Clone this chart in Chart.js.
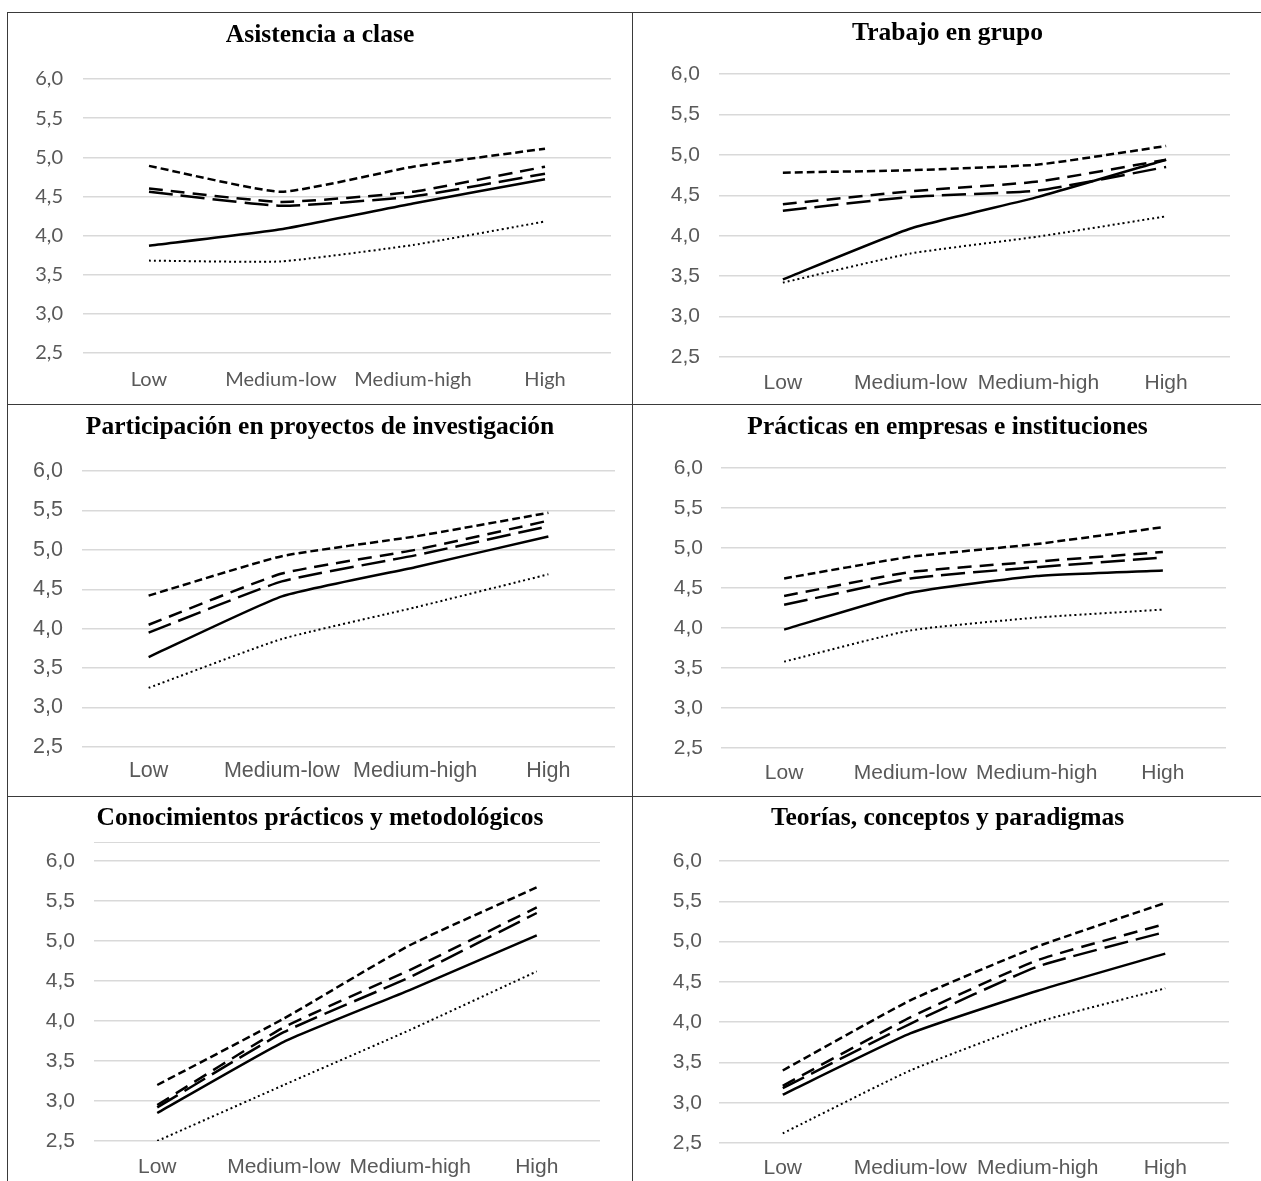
<!DOCTYPE html>
<html lang="es">
<head>
<meta charset="utf-8">
<title>Valoración por nivel</title>
<script src="https://cdn.jsdelivr.net/npm/chart.js@4.4.1/dist/chart.umd.min.js"></script>
<style>
  body { margin: 0; background: #fff; width: 1261px; height: 1181px; position: relative; overflow: hidden; }
  canvas { position: absolute; }
  .linea { position: absolute; background: #3a3a3a; }
  .marco { position: absolute; background: #d9d9d9; }
</style>
</head>
<body>
<div class="linea" style="left:7px;top:12px;width:1254px;height:1px"></div>
<div class="linea" style="left:7px;top:404px;width:1254px;height:1px"></div>
<div class="linea" style="left:7px;top:796px;width:1254px;height:1px"></div>
<div class="linea" style="left:7px;top:12px;width:1px;height:1169px"></div>
<div class="linea" style="left:632px;top:12px;width:1px;height:1169px"></div>
<div class="marco" style="left:94px;top:842px;width:506px;height:1px"></div>

<canvas id="g1"></canvas>
<canvas id="g2"></canvas>
<canvas id="g3"></canvas>
<canvas id="g4"></canvas>
<canvas id="g5"></canvas>
<canvas id="g6"></canvas>

<script>
const categorias = ['Low', 'Medium-low', 'Medium-high', 'High'];
const ticksY = [2.5, 3.0, 3.5, 4.0, 4.5, 5.0, 5.5, 6.0];

// Asistencia a clase
const asistencia_continua = [3.87, 4.08, 4.41, 4.72];
const asistencia_punteada = [3.68, 3.67, 3.88, 4.18];
const asistencia_guionCorto = [4.89, 4.56, 4.88, 5.11];
const asistencia_guion = [4.60, 4.43, 4.56, 4.88];
const asistencia_guionLargo = [4.56, 4.38, 4.50, 4.79];

// Trabajo en grupo
const trabajo_continua = [3.46, 4.09, 4.48, 4.94];
const trabajo_punteada = [3.42, 3.78, 3.99, 4.24];
const trabajo_guionCorto = [4.78, 4.81, 4.88, 5.11];
const trabajo_guion = [4.39, 4.55, 4.67, 4.94];
const trabajo_guionLargo = [4.31, 4.48, 4.56, 4.85];

// Participación en proyectos de investigación
const proyectos_continua = [3.64, 4.41, 4.78, 5.17];
const proyectos_punteada = [3.25, 3.87, 4.27, 4.69];
const proyectos_guionCorto = [4.42, 4.92, 5.17, 5.47];
const proyectos_guion = [4.05, 4.70, 5.00, 5.37];
const proyectos_guionLargo = [3.95, 4.60, 4.93, 5.30];

// Prácticas en empresas e instituciones
const practicas_continua = [3.98, 4.44, 4.65, 4.72];
const practicas_punteada = [3.58, 3.97, 4.13, 4.23];
const practicas_guionCorto = [4.62, 4.89, 5.05, 5.26];
const practicas_guion = [4.40, 4.70, 4.83, 4.95];
const practicas_guionLargo = [4.29, 4.62, 4.76, 4.88];

// Conocimientos prácticos y metodológicos
const conocimientos_continua = [2.85, 3.74, 4.39, 5.07];
const conocimientos_punteada = [2.50, 3.20, 3.89, 4.62];
const conocimientos_guionCorto = [3.20, 4.03, 4.95, 5.67];
const conocimientos_guion = [2.95, 3.92, 4.64, 5.42];
const conocimientos_guionLargo = [2.92, 3.86, 4.55, 5.35];

// Teorías, conceptos y paradigmas
const teorias_continua = [3.10, 3.86, 4.39, 4.85];
const teorias_punteada = [2.62, 3.40, 4.00, 4.42];
const teorias_guionCorto = [3.40, 4.27, 4.94, 5.48];
const teorias_guion = [3.21, 4.06, 4.77, 5.22];
const teorias_guionLargo = [3.18, 3.98, 4.69, 5.12];

// estilo de cada serie: continua, punteada, guion corto, guion, guion largo
const estilos = [
    { dash: [], width: 2.5 },
    { dash: [2, 3], width: 2 },
    { dash: [8, 4], width: 2.5 },
    { dash: [14, 8], width: 2.5 },
    { dash: [24, 8], width: 2.5 },
];

function crearGrafico(id, titulo, series, g) {
    const canvas = document.getElementById(id);
    const [cx, cy, cw, ch] = g.celda;
    const [l, r, t, b] = g.area;
    canvas.width = cw;
    canvas.height = ch;
    canvas.style.left = cx + 'px';
    canvas.style.top = cy + 'px';

    const tSize = 25.5;
    const tPadTop = g.tituloY - cy - tSize * 0.6;
    const tPadBottom = (t - cy) - tPadTop - tSize * 1.2;
    const lado = cx + cw - r;           // mismo margen a ambos lados para centrar el título
    const anchoY = l - cx - lado;
    const altoX = 36;

    const datasets = series.map((valores, i) => ({
        data: valores,
        borderColor: '#000000',
        backgroundColor: '#000000',
        borderWidth: estilos[i].width,
        borderDash: estilos[i].dash,
        borderCapStyle: 'butt',
        tension: 0.15,
        pointRadius: 0,
        fill: false,
    }));

    const fuente = { family: g.fuente, size: g.tam };

    return new Chart(canvas, {
        type: 'line',
        data: { labels: categorias, datasets: datasets },
        options: {
            responsive: false,
            animation: false,
            devicePixelRatio: 1,
            layout: {
                padding: { left: lado, top: 0, right: lado, bottom: cy + ch - b - altoX }
            },
            plugins: {
                legend: { display: false },
                tooltip: { enabled: false },
                title: {
                    display: true,
                    text: titulo,
                    color: '#000000',
                    font: { family: 'Liberation Serif', size: tSize, weight: 'bold' },
                    padding: { top: tPadTop, bottom: tPadBottom }
                }
            },
            scales: {
                x: {
                    offset: true,
                    grid: { display: false, drawTicks: false },
                    border: { display: false },
                    ticks: {
                        color: '#595959',
                        font: fuente,
                        padding: g.etiquetaX - b - g.tam * 0.6,
                        maxRotation: 0,
                        autoSkip: false
                    },
                    afterFit: (s) => { s.height = altoX; }
                },
                y: {
                    min: ticksY[0],
                    max: ticksY[ticksY.length - 1],
                    afterBuildTicks: (s) => { s.ticks = ticksY.map(v => ({ value: v })); },
                    grid: { color: '#d9d9d9', lineWidth: 1.5, drawTicks: false },
                    border: { display: false },
                    ticks: {
                        color: '#595959',
                        font: fuente,
                        padding: l - g.etiquetaY,
                        callback: (v) => v.toFixed(1).replace('.', ',')
                    },
                    afterFit: (s) => { s.width = anchoY; }
                }
            }
        }
    });
}

crearGrafico('g1', 'Asistencia a clase',
    [asistencia_continua, asistencia_punteada, asistencia_guionCorto, asistencia_guion, asistencia_guionLargo],
    { celda: [8, 13, 624, 391], area: [83, 611, 79, 353], tituloY: 35, etiquetaY: 63, etiquetaX: 380, fuente: 'Lato', tam: 20 });

crearGrafico('g2', 'Trabajo en grupo',
    [trabajo_continua, trabajo_punteada, trabajo_guionCorto, trabajo_guion, trabajo_guionLargo],
    { celda: [634, 13, 627, 391], area: [719, 1230, 74, 357], tituloY: 33, etiquetaY: 700, etiquetaX: 383, fuente: 'Liberation Sans', tam: 21 });

crearGrafico('g3', 'Participación en proyectos de investigación',
    [proyectos_continua, proyectos_punteada, proyectos_guionCorto, proyectos_guion, proyectos_guionLargo],
    { celda: [8, 405, 624, 391], area: [82, 615, 471, 747], tituloY: 427, etiquetaY: 63, etiquetaX: 771, fuente: 'Liberation Sans', tam: 21.5 });

crearGrafico('g4', 'Prácticas en empresas e instituciones',
    [practicas_continua, practicas_punteada, practicas_guionCorto, practicas_guion, practicas_guionLargo],
    { celda: [634, 405, 627, 391], area: [721, 1226, 468, 748], tituloY: 427, etiquetaY: 703, etiquetaX: 773, fuente: 'Liberation Sans', tam: 21 });

crearGrafico('g5', 'Conocimientos prácticos y metodológicos',
    [conocimientos_continua, conocimientos_punteada, conocimientos_guionCorto, conocimientos_guion, conocimientos_guionLargo],
    { celda: [8, 797, 624, 384], area: [94, 600, 861, 1141], tituloY: 818, etiquetaY: 75, etiquetaX: 1167, fuente: 'Liberation Sans', tam: 21 });

crearGrafico('g6', 'Teorías, conceptos y paradigmas',
    [teorias_continua, teorias_punteada, teorias_guionCorto, teorias_guion, teorias_guionLargo],
    { celda: [634, 797, 627, 384], area: [719, 1229, 861, 1143], tituloY: 818, etiquetaY: 702, etiquetaX: 1168, fuente: 'Liberation Sans', tam: 21 });
</script>
</body>
</html>
